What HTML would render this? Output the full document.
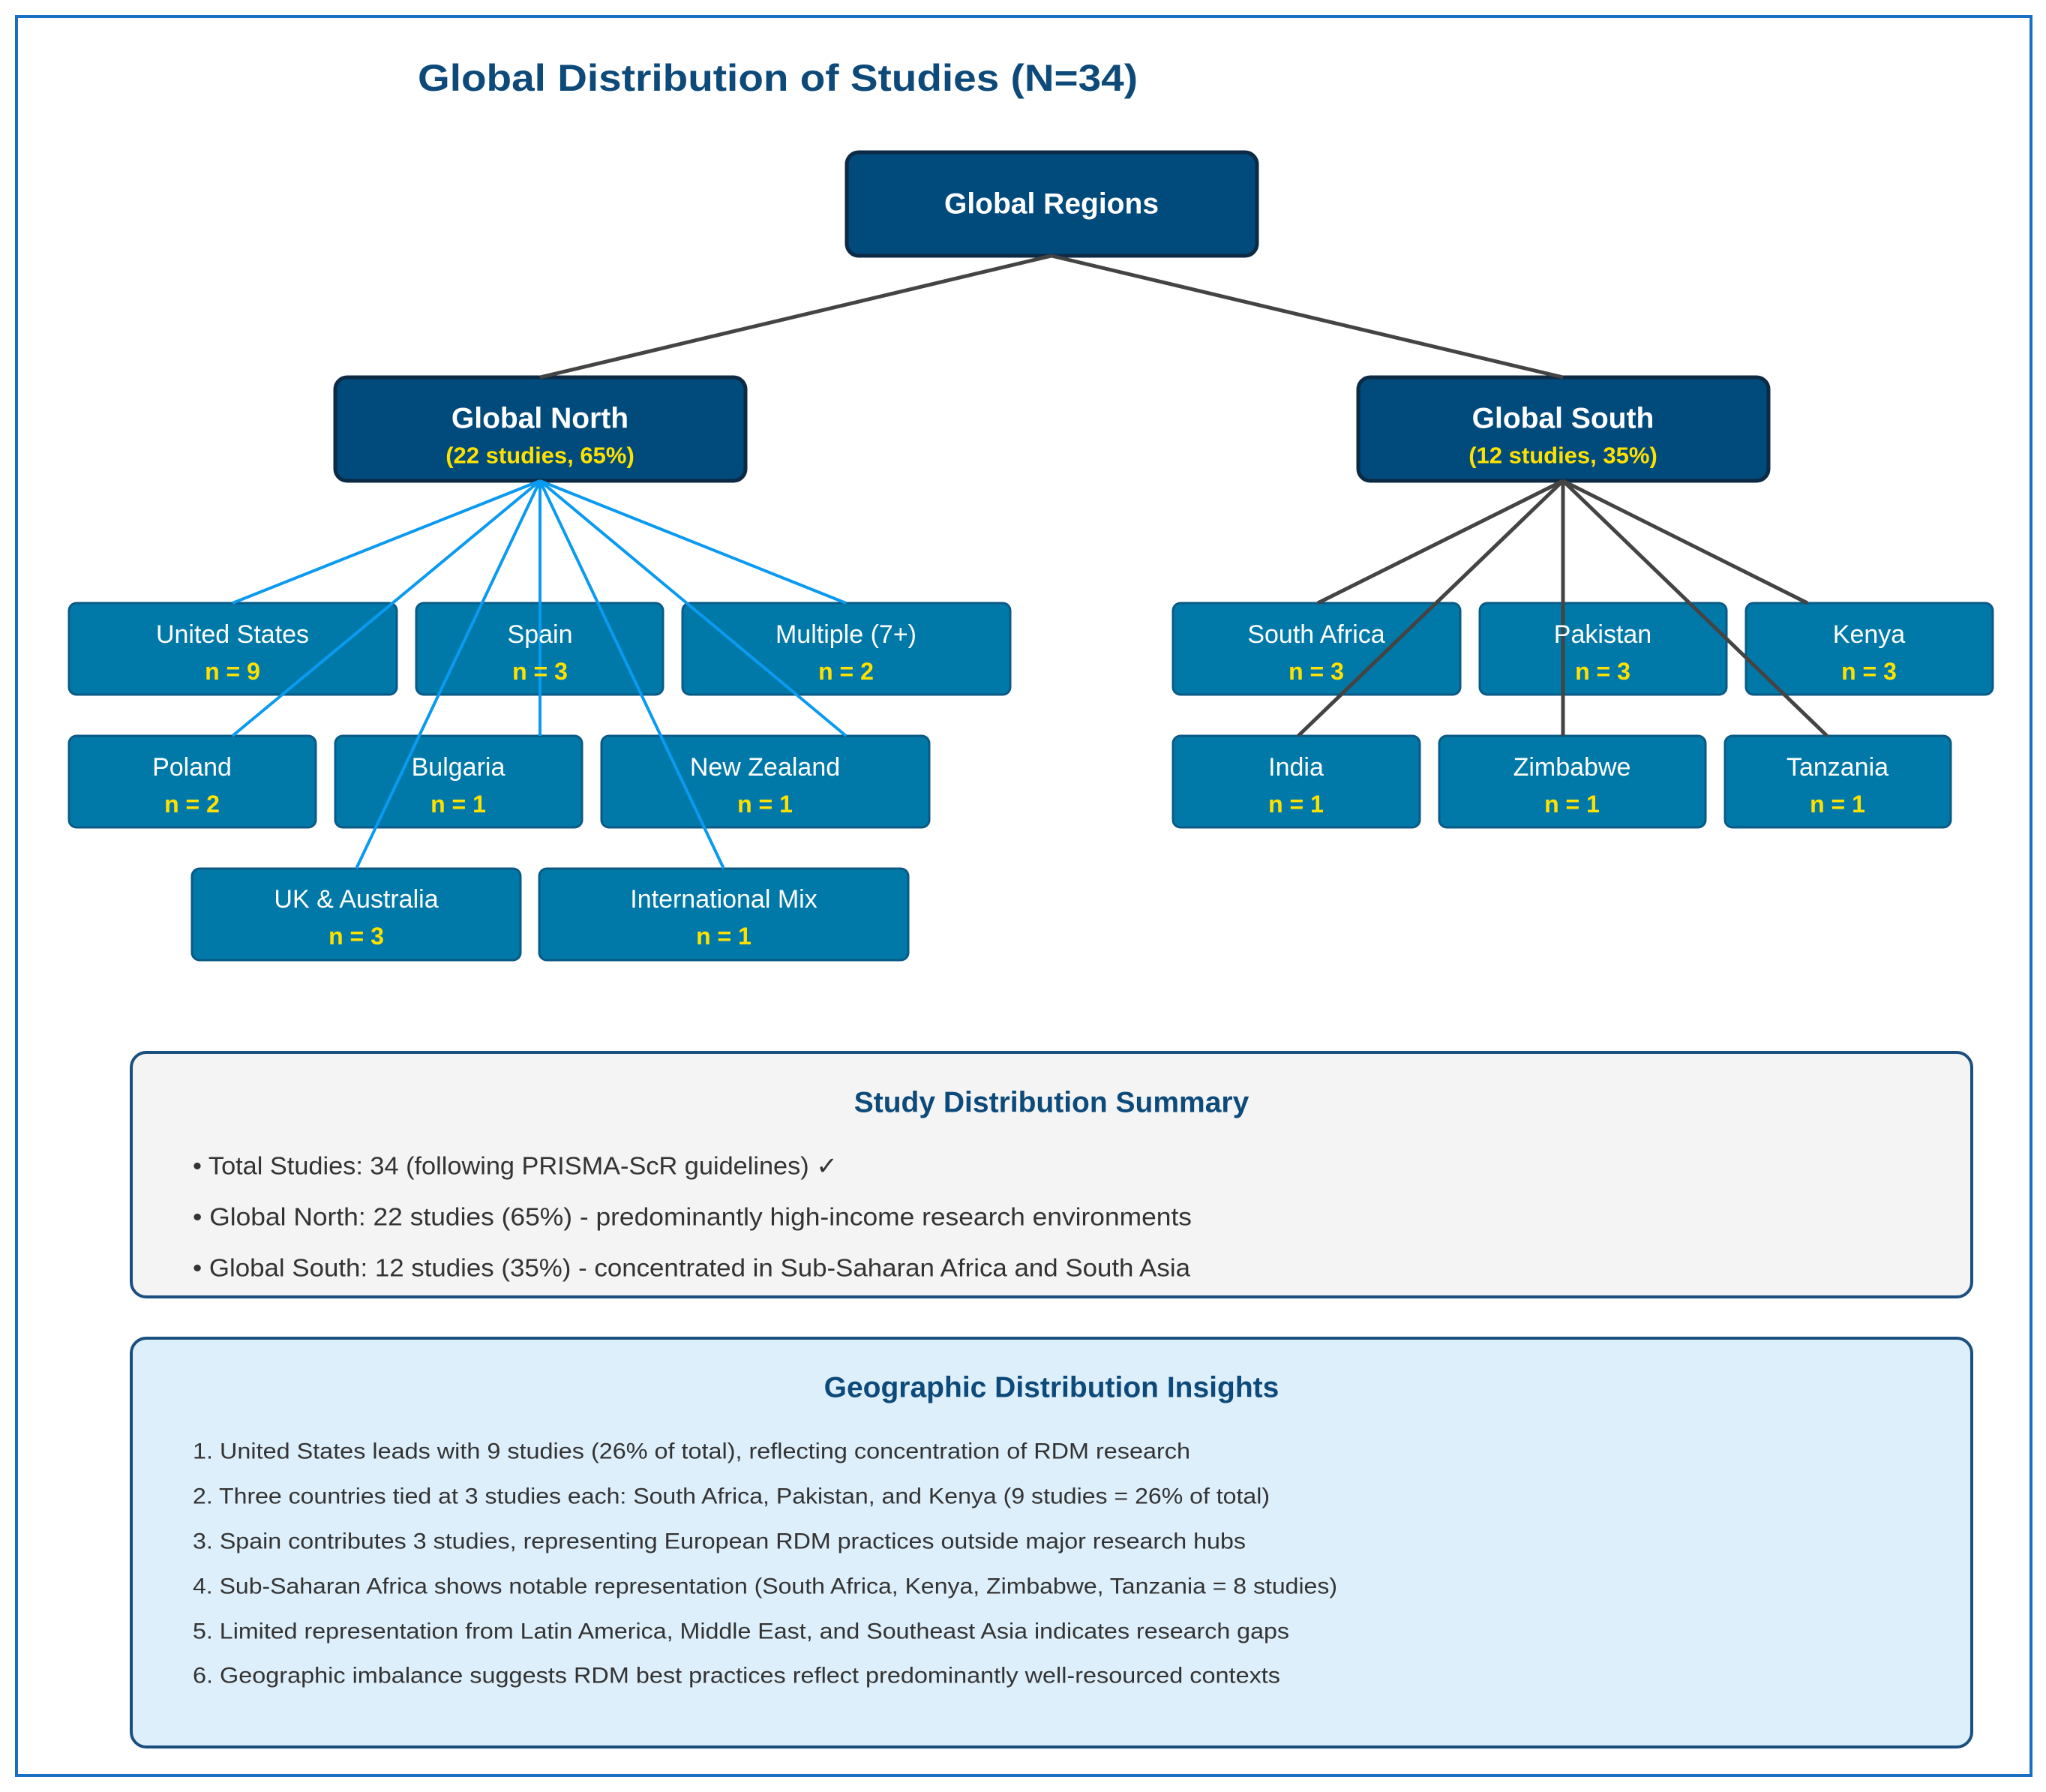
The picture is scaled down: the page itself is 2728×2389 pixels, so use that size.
<!DOCTYPE html>
<html><head><meta charset="utf-8"><style>
html,body{margin:0;padding:0;background:#fff;}
svg{display:block;}
text{font-family:"Liberation Sans",sans-serif;}
</style></head><body>
<svg width="2728" height="2389" viewBox="0 0 2728 2389" xmlns="http://www.w3.org/2000/svg">
<rect x="0" y="0" width="2728" height="2389" fill="#fff"/>
<rect x="22" y="22" width="2686" height="2345" fill="none" stroke="#1a6fc2" stroke-width="4"/>
<text x="1037" y="104" font-size="50" font-weight="bold" fill="#0d4a7a" text-anchor="middle" dominant-baseline="central" textLength="960" lengthAdjust="spacingAndGlyphs">Global Distribution of Studies (N=34)</text>

<g fill="#004a7c" stroke="#0d2a45" stroke-width="5">
<rect x="1129" y="203" width="547" height="138" rx="16"/>
<rect x="447" y="503" width="547" height="138" rx="16"/>
<rect x="1811" y="503" width="547" height="138" rx="16"/>
</g>

<g fill="#0079a8" stroke="#0a5a85" stroke-width="3">
<rect x="92" y="804" width="437" height="122" rx="10"/>
<rect x="555" y="804" width="329" height="122" rx="10"/>
<rect x="910" y="804" width="437" height="122" rx="10"/>
<rect x="92" y="981" width="329" height="122" rx="10"/>
<rect x="447" y="981" width="329" height="122" rx="10"/>
<rect x="802" y="981" width="437" height="122" rx="10"/>
<rect x="256" y="1158" width="438" height="122" rx="10"/>
<rect x="719" y="1158" width="492" height="122" rx="10"/>
<rect x="1564" y="804" width="383" height="122" rx="10"/>
<rect x="1973" y="804" width="329" height="122" rx="10"/>
<rect x="2328" y="804" width="329" height="122" rx="10"/>
<rect x="1564" y="981" width="329" height="122" rx="10"/>
<rect x="1919" y="981" width="355" height="122" rx="10"/>
<rect x="2300" y="981" width="301" height="122" rx="10"/>
</g>

<g stroke="#444" stroke-width="5">
<line x1="1402" y1="341" x2="720" y2="503"/>
<line x1="1402" y1="341" x2="2084" y2="503"/>
<line x1="2084" y1="641" x2="1757" y2="804"/>
<line x1="2084" y1="641" x2="2410" y2="804"/>
<line x1="2084" y1="641" x2="1731" y2="981"/>
<line x1="2084" y1="641" x2="2084" y2="981"/>
<line x1="2084" y1="641" x2="2436" y2="981"/>
</g>
<g stroke="#0a9af0" stroke-width="4">
<line x1="720" y1="641" x2="310" y2="804"/>
<line x1="720" y1="641" x2="720" y2="804"/>
<line x1="720" y1="641" x2="1128" y2="804"/>
<line x1="720" y1="641" x2="310" y2="981"/>
<line x1="720" y1="641" x2="720" y2="981"/>
<line x1="720" y1="641" x2="1128" y2="981"/>
<line x1="720" y1="641" x2="475" y2="1158"/>
<line x1="720" y1="641" x2="965" y2="1158"/>
</g>

<g text-anchor="middle" dominant-baseline="central" font-weight="bold">
<text x="1402" y="272" font-size="39" fill="#fff">Global Regions</text>
<text x="720" y="558" font-size="39" fill="#fff">Global North</text>
<text x="720" y="607" font-size="31" fill="#ffe100">(22 studies, 65%)</text>
<text x="2084" y="558" font-size="39" fill="#fff">Global South</text>
<text x="2084" y="607" font-size="31" fill="#ffe100">(12 studies, 35%)</text>
</g>

<g text-anchor="middle" dominant-baseline="central" font-size="34" fill="#fff">
<text x="310" y="846">United States</text>
<text x="720" y="846">Spain</text>
<text x="1128" y="846">Multiple (7+)</text>
<text x="256" y="1023">Poland</text>
<text x="611" y="1023">Bulgaria</text>
<text x="1020" y="1023">New Zealand</text>
<text x="475" y="1199">UK &amp; Australia</text>
<text x="965" y="1199">International Mix</text>
<text x="1755" y="846">South Africa</text>
<text x="2137" y="846">Pakistan</text>
<text x="2492" y="846">Kenya</text>
<text x="1728" y="1023">India</text>
<text x="2096" y="1023">Zimbabwe</text>
<text x="2450" y="1023">Tanzania</text>
</g>
<g text-anchor="middle" dominant-baseline="central" font-size="32" font-weight="bold" fill="#ffe100">
<text x="310" y="895">n = 9</text>
<text x="720" y="895">n = 3</text>
<text x="1128" y="895">n = 2</text>
<text x="256" y="1072">n = 2</text>
<text x="611" y="1072">n = 1</text>
<text x="1020" y="1072">n = 1</text>
<text x="475" y="1248">n = 3</text>
<text x="965" y="1248">n = 1</text>
<text x="1755" y="895">n = 3</text>
<text x="2137" y="895">n = 3</text>
<text x="2492" y="895">n = 3</text>
<text x="1728" y="1072">n = 1</text>
<text x="2096" y="1072">n = 1</text>
<text x="2450" y="1072">n = 1</text>
</g>

<rect x="175" y="1403" width="2454" height="326" rx="20" fill="#f4f4f4" stroke="#1a4f80" stroke-width="4"/>
<text x="1402" y="1470" font-size="39" font-weight="bold" fill="#0d4a7a" text-anchor="middle" dominant-baseline="central">Study Distribution Summary</text>
<g font-size="33" fill="#333" dominant-baseline="central">
<text x="257" y="1554" textLength="860" lengthAdjust="spacingAndGlyphs">• Total Studies: 34 (following PRISMA-ScR guidelines) ✓</text>
<text x="257" y="1622" textLength="1332" lengthAdjust="spacingAndGlyphs">• Global North: 22 studies (65%) - predominantly high-income research environments</text>
<text x="257" y="1690" textLength="1330" lengthAdjust="spacingAndGlyphs">• Global South: 12 studies (35%) - concentrated in Sub-Saharan Africa and South Asia</text>
</g>

<rect x="175" y="1784" width="2454" height="545" rx="20" fill="#ddeffb" stroke="#1a4f80" stroke-width="4"/>
<text x="1402" y="1850" font-size="39" font-weight="bold" fill="#0d4a7a" text-anchor="middle" dominant-baseline="central">Geographic Distribution Insights</text>
<g font-size="30" fill="#333" dominant-baseline="central">
<text x="257" y="1935" textLength="1330" lengthAdjust="spacingAndGlyphs">1. United States leads with 9 studies (26% of total), reflecting concentration of RDM research</text>
<text x="257" y="1995" textLength="1436" lengthAdjust="spacingAndGlyphs">2. Three countries tied at 3 studies each: South Africa, Pakistan, and Kenya (9 studies = 26% of total)</text>
<text x="257" y="2055" textLength="1404" lengthAdjust="spacingAndGlyphs">3. Spain contributes 3 studies, representing European RDM practices outside major research hubs</text>
<text x="257" y="2115" textLength="1526" lengthAdjust="spacingAndGlyphs">4. Sub-Saharan Africa shows notable representation (South Africa, Kenya, Zimbabwe, Tanzania = 8 studies)</text>
<text x="257" y="2175" textLength="1462" lengthAdjust="spacingAndGlyphs">5. Limited representation from Latin America, Middle East, and Southeast Asia indicates research gaps</text>
<text x="257" y="2234" textLength="1450" lengthAdjust="spacingAndGlyphs">6. Geographic imbalance suggests RDM best practices reflect predominantly well-resourced contexts</text>
</g>
</svg>
</body></html>
